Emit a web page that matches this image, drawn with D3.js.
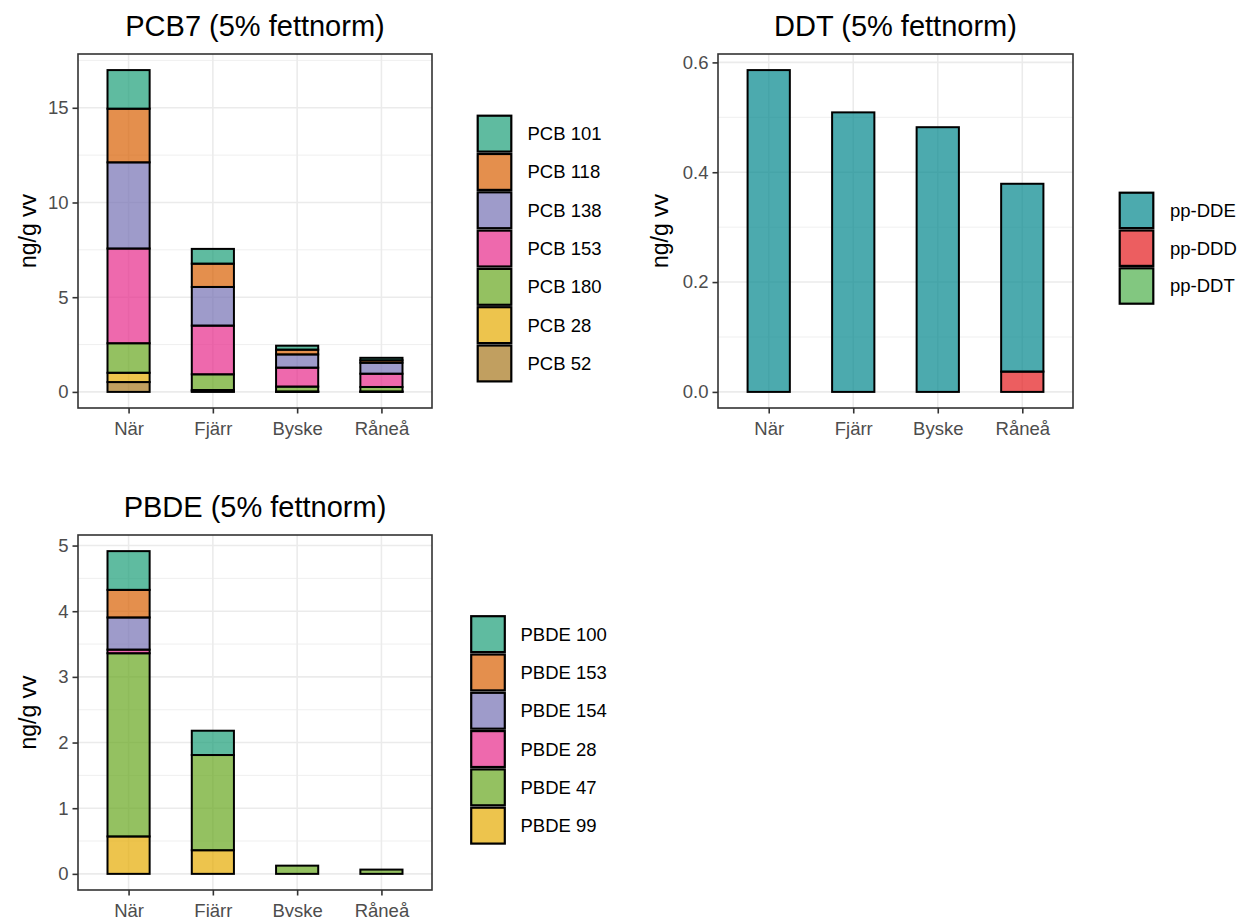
<!DOCTYPE html>
<html>
<head>
<meta charset="utf-8">
<script src="https://cdn.jsdelivr.net/npm/d3@7"></script>
<style>
  body { margin: 0; background: #fff; }
  svg { display: block; font-family: "Liberation Sans", Arial, sans-serif; }
</style>
</head>
<body>
<svg id="chart" width="1241" height="917"></svg>
<script>
// Sampling sites (x categories)
const sites = ["När", "Fjärr", "Byske", "Råneå"];

// PCB7 congeners, ng/g vv (5% fat normalised), per site
const pcbNames = ["PCB 101", "PCB 118", "PCB 138", "PCB 153", "PCB 180", "PCB 28", "PCB 52"];
const pcb101 = [2.04, 0.78, 0.21, 0.13];
const pcb118 = [2.83, 1.23, 0.25, 0.13];
const pcb138 = [4.55, 2.04, 0.70, 0.58];
const pcb153 = [5.00, 2.57, 1.00, 0.70];
const pcb180 = [1.56, 0.83, 0.26, 0.24];
const pcb28  = [0.49, 0.06, 0.01, 0.01];
const pcb52  = [0.52, 0.04, 0.01, 0.01];

// DDT and metabolites
const ddtNames = ["pp-DDE", "pp-DDD", "pp-DDT"];
const ppDDE = [0.586, 0.509, 0.482, 0.342];
const ppDDD = [0, 0, 0, 0.037];
const ppDDT = [0, 0, 0, 0];

// PBDE congeners
const pbdeNames = ["PBDE 100", "PBDE 153", "PBDE 154", "PBDE 28", "PBDE 47", "PBDE 99"];
const pbde100 = [0.59, 0.37, 0, 0];
const pbde153 = [0.42, 0, 0, 0];
const pbde154 = [0.49, 0, 0, 0];
const pbde28  = [0.055, 0, 0, 0];
const pbde47  = [2.79, 1.45, 0.125, 0.065];
const pbde99  = [0.57, 0.36, 0, 0];

// Axis ticks
const pcbTicks = [0, 5, 10, 15];
const ddtTicks = [0, 0.2, 0.4, 0.6];
const pbdeTicks = [0, 1, 2, 3, 4, 5];

// Fill palettes (drawn at 0.7 opacity)
const dark2 = ["#1B9E77", "#D95F02", "#7570B3", "#E7298A", "#66A61E", "#E6AB02", "#A6761D"];
const ddtColors = ["#00868B", "#E41A1C", "#4DAF4A"];

const FONT = "Liberation Sans, Arial, sans-serif";
const svg = d3.select("#chart");

function panel(opts) {
  const { title, names, series, colors, ticks, minorStep, tickFmt,
          x0, x1, y0, y1, legendX, legendY, legendStep, textX, ytitleX } = opts;

  // stacked data: the last legend entry sits at the bottom
  const rows = sites.map((s, i) => {
    const r = { site: s };
    names.forEach((n, k) => r[n] = series[k][i]);
    return r;
  });
  const stacked = d3.stack().keys(names.slice().reverse())(rows);
  const maxV = d3.max(rows, r => d3.sum(names, n => r[n]));

  const lo = -0.05 * maxV, hi = 1.05 * maxV;
  const y = d3.scaleLinear().domain([lo, hi]).range([y1, y0]);
  const step = (x1 - x0) / 4.2;
  const xc = d3.scalePoint().domain(sites).range([x0 + 0.6 * step, x1 - 0.6 * step]);
  const barW = step * 0.5;

  const g = svg.append("g");

  // grid: minor lines halfway between the major ticks
  const minorVals = [];
  for (let k = Math.ceil(lo / minorStep); k * minorStep <= hi + 1e-9; k++) {
    const v = k * minorStep;
    if (!ticks.some(t => Math.abs(t - v) < 1e-9)) minorVals.push(v);
  }
  g.selectAll(".minor").data(minorVals).join("line")
    .attr("x1", x0).attr("x2", x1)
    .attr("y1", d => y(d)).attr("y2", d => y(d))
    .attr("stroke", "#EBEBEB").attr("stroke-width", 0.8);
  g.selectAll(".major").data(ticks).join("line")
    .attr("x1", x0).attr("x2", x1)
    .attr("y1", d => y(d)).attr("y2", d => y(d))
    .attr("stroke", "#EBEBEB").attr("stroke-width", 1.6);
  g.selectAll(".vgrid").data(sites).join("line")
    .attr("x1", d => xc(d)).attr("x2", d => xc(d))
    .attr("y1", y0).attr("y2", y1)
    .attr("stroke", "#EBEBEB").attr("stroke-width", 1.6);

  // stacked bars
  stacked.forEach(layer => {
    const ci = names.indexOf(layer.key);
    g.append("g").selectAll("rect").data(layer.filter(d => d[1] - d[0] > 0)).join("rect")
      .attr("x", d => xc(d.data.site) - barW / 2)
      .attr("width", barW)
      .attr("y", d => y(d[1]))
      .attr("height", d => y(d[0]) - y(d[1]))
      .attr("fill", colors[ci]).attr("fill-opacity", 0.7)
      .attr("stroke", "#000").attr("stroke-width", 2);
  });

  // panel border
  g.append("rect").attr("x", x0).attr("y", y0).attr("width", x1 - x0).attr("height", y1 - y0)
    .attr("fill", "none").attr("stroke", "#333").attr("stroke-width", 1.6);

  // y axis
  const ya = g.append("g").attr("transform", `translate(${x0},0)`)
    .call(d3.axisLeft(y).tickValues(ticks).tickFormat(tickFmt).tickSize(5.5).tickPadding(4));
  ya.select(".domain").remove();
  ya.selectAll(".tick line").attr("stroke", "#333").attr("stroke-width", 1.6);
  ya.selectAll(".tick text").attr("fill", "#4D4D4D").attr("font-size", 18.5).attr("font-family", FONT);

  // x axis
  const xa = g.append("g").attr("transform", `translate(0,${y1})`)
    .call(d3.axisBottom(xc).tickSize(5.5).tickPadding(8));
  xa.select(".domain").remove();
  xa.selectAll(".tick line").attr("stroke", "#333").attr("stroke-width", 1.6);
  xa.selectAll(".tick text").attr("fill", "#4D4D4D").attr("font-size", 18.5).attr("font-family", FONT);

  // titles
  g.append("text").attr("x", (x0 + x1) / 2).attr("y", y0 - 18)
    .attr("text-anchor", "middle").attr("font-size", 29).attr("fill", "#000").text(title);
  g.append("text")
    .attr("transform", `translate(${ytitleX},${(y0 + y1) / 2}) rotate(-90)`)
    .attr("text-anchor", "middle").attr("font-size", 23).attr("fill", "#000").text("ng/g vv");

  // legend
  const lg = g.append("g");
  names.forEach((n, k) => {
    const ky = legendY + k * legendStep;
    lg.append("rect").attr("x", legendX + 1.2).attr("y", ky + 1.2)
      .attr("width", 33.6).attr("height", legendStep - 2.4)
      .attr("fill", colors[k]).attr("fill-opacity", 0.7)
      .attr("stroke", "#000").attr("stroke-width", 2.2);
    lg.append("text").attr("x", textX).attr("y", ky + legendStep / 2)
      .attr("dy", "0.35em").attr("font-size", 18.5).attr("fill", "#000").text(n);
  });
}

panel({
  title: "PCB7 (5% fettnorm)", names: pcbNames,
  series: [pcb101, pcb118, pcb138, pcb153, pcb180, pcb28, pcb52],
  colors: dark2, ticks: pcbTicks, minorStep: 2.5, tickFmt: d3.format("d"),
  x0: 78, x1: 432, y0: 54, y1: 408,
  legendX: 476.5, legendY: 114.5, legendStep: 38.3, textX: 527.5, ytitleX: 36
});

panel({
  title: "DDT (5% fettnorm)", names: ddtNames,
  series: [ppDDE, ppDDD, ppDDT],
  colors: ddtColors, ticks: ddtTicks, minorStep: 0.1, tickFmt: d3.format(".1f"),
  x0: 718, x1: 1073, y0: 54, y1: 408,
  legendX: 1118.5, legendY: 191.5, legendStep: 37.8, textX: 1170, ytitleX: 668
});

panel({
  title: "PBDE (5% fettnorm)", names: pbdeNames,
  series: [pbde100, pbde153, pbde154, pbde28, pbde47, pbde99],
  colors: dark2, ticks: pbdeTicks, minorStep: 0.5, tickFmt: d3.format("d"),
  x0: 78, x1: 432, y0: 535, y1: 890,
  legendX: 470, legendY: 615, legendStep: 38.3, textX: 520.5, ytitleX: 36
});
</script>
</body>
</html>
